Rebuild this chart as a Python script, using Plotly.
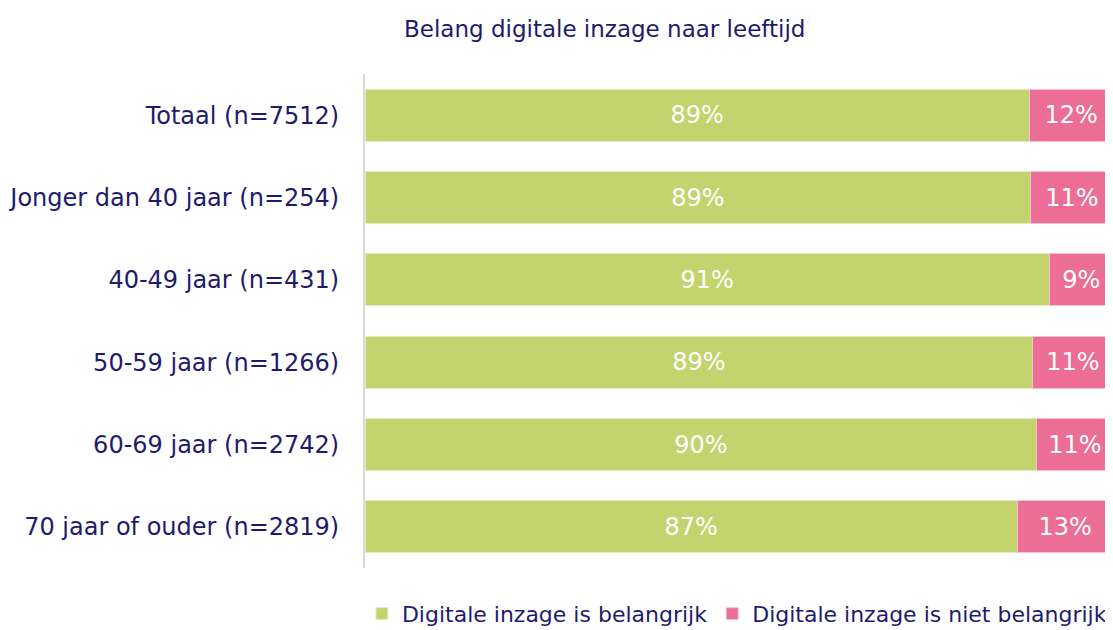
import plotly.graph_objects as go

categories = ["Totaal (n=7512)", "Jonger dan 40 jaar (n=254)", "40-49 jaar (n=431)",
              "50-59 jaar (n=1266)", "60-69 jaar (n=2742)", "70 jaar of ouder (n=2819)"]
belangrijk = [88.8, 89.0, 91.5, 89.3, 89.8, 87.2]
niet_belangrijk = [11.2, 11.0, 8.5, 10.7, 10.2, 12.8]
belangrijk_labels = ["89%", "89%", "91%", "89%", "90%", "87%"]
niet_labels = ["12%", "11%", "9%", "11%", "11%", "13%"]

navy = "#1E1B6E"
font_family = "DejaVu Sans, sans-serif"

fig = go.Figure()
fig.add_trace(go.Bar(
    y=categories, x=belangrijk, orientation="h", name="Digitale inzage is belangrijk",
    marker=dict(color="#C3D36D", line=dict(color="#E4EBC0", width=1)),
    text=belangrijk_labels, textposition="inside", insidetextanchor="middle",
    textfont=dict(color="white", size=24, family=font_family), hoverinfo="skip"))
fig.add_trace(go.Bar(
    y=categories, x=niet_belangrijk, orientation="h", name="Digitale inzage is niet belangrijk",
    marker=dict(color="#EC6E96", line=dict(color="#F5C3D2", width=1)),
    text=niet_labels, textposition="inside", insidetextanchor="middle",
    textfont=dict(color="white", size=24, family=font_family), hoverinfo="skip"))

# the page body adds an 8px margin, so the figure is 8px smaller on each side
fig.update_layout(
    width=1105, height=622, barmode="stack", bargap=0.368,
    plot_bgcolor="white", paper_bgcolor="white",
    margin=dict(l=357, r=0, t=66, b=62, autoexpand=False),
    font=dict(family=font_family, color=navy, size=24),
    uniformtext=dict(mode=False),
    title=dict(text="Belang digitale inzage naar leeftijd", x=0.540, xanchor="center",
               xref="container", y=0.966, yanchor="middle",
               font=dict(size=23, color=navy, family=font_family)),
    xaxis=dict(range=[0, 100], visible=False, showgrid=False, zeroline=False),
    yaxis=dict(categoryorder="array", categoryarray=categories[::-1], autorange=False,
               range=[-0.5, 5.5], showline=True, linecolor="#D9D9D9", linewidth=2,
               ticks="", ticklabelstandoff=19, automargin=False,
               tickfont=dict(size=24, color=navy)),
    legend=dict(orientation="h", x=0.999, xanchor="right", xref="container",
                y=0.026, yanchor="middle", yref="container",
                font=dict(size=22, color=navy), itemwidth=30, traceorder="normal",
                tracegroupgap=0),
    showlegend=True,
)
fig.write_html("out.html")
